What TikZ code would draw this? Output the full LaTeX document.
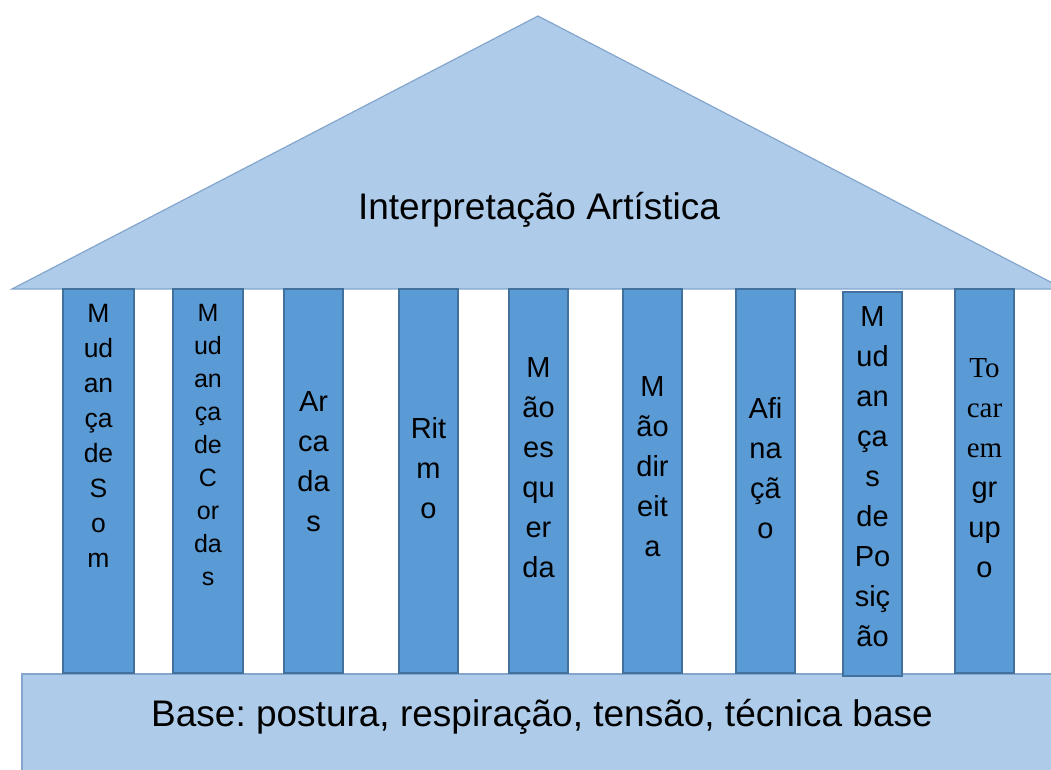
\documentclass[tikz,border=0pt]{standalone}
\usepackage{fontspec}
\setmainfont{Liberation Sans}
\newfontfamily\timesfont{Liberation Serif}
\usetikzlibrary{positioning}
\frenchspacing

\definecolor{roofblue}{RGB}{174,204,234}
\definecolor{roofedge}{RGB}{132,166,205}
\definecolor{pillarblue}{RGB}{91,155,213}
\definecolor{pillaredge}{RGB}{65,113,156}

\begin{document}
\begin{tikzpicture}[x=1pt, y=-1pt,
    roof/.style={fill=roofblue, draw=roofedge, line width=1.2pt},
    pillar/.style={rectangle, fill=pillarblue, draw=pillaredge, line width=2pt, minimum width=59pt, minimum height=384pt, inner sep=0pt},
    pillartext/.style={align=center, inner sep=0pt, font=\fontsize{29}{40}\selectfont},
    bigtext/.style={inner sep=0pt, anchor=base, font=\fontsize{37}{44}\selectfont}]
    \useasboundingbox (0,0) rectangle (1051,769);

    % Roof
    \draw [roof] (12,289) -- (538,16) -- (1064,289) -- cycle;
    \node [bigtext] (roofTitle) at (539,219) {Interpretação Artística};

    % Base
    \draw [roof] (22,674) rectangle (1080,800);
    \node [bigtext] (baseTitle) at (542,726) {Base: postura, respiração, tensão, técnica base};

    % Pillars
    \node [pillar, minimum width=71pt] (p1) at (98.5,481) {};
    \node [pillar, minimum width=70pt] (p2) at (208,481) {};
    \node [pillar] (p3) at (313.5,481) {};
    \node [pillar] (p4) at (428.5,481) {};
    \node [pillar] (p5) at (538.5,481) {};
    \node [pillar] (p6) at (652.5,481) {};
    \node [pillar] (p7) at (765.5,481) {};
    \node [pillar] (p8) at (872.5,483.5) {};
    \node [pillar] (p9) at (984.5,481) {};

    % Pillar texts
    \node [pillartext, font=\fontsize{26.5}{35}\selectfont] (t1) at ([yshift=45pt]p1.center) {M\\ud\\an\\ça\\de\\S\\o\\m};
    \node [pillartext, font=\fontsize{25}{33}\selectfont] (t2) at ([yshift=36pt]p2.center) {M\\ud\\an\\ça\\de\\C\\or\\da\\s};
    \node [pillartext] (t3) at ([yshift=19pt]p3.center) {Ar\\ca\\da\\s};
    \node [pillartext] (t4) at ([yshift=13pt]p4.center) {Rit\\m\\o};
    \node [pillartext] (t5) at ([yshift=13pt]p5.center) {M\\ão\\es\\qu\\er\\da};
    \node [pillartext] (t6) at ([yshift=14pt]p6.center) {M\\ão\\dir\\eit\\a};
    \node [pillartext] (t7) at ([yshift=12.5pt]p7.center) {Afi\\na\\çã\\o};
    \node [pillartext] (t8) at ([yshift=6.5pt]p8.center) {M\\ud\\an\\ça\\s\\de\\Po\\siç\\ão};
    \node [pillartext] (t9) at ([yshift=13pt]p9.center) {{\timesfont To}\\{\timesfont car}\\{\timesfont em}\\gr\\up\\o};
\end{tikzpicture}
\end{document}
